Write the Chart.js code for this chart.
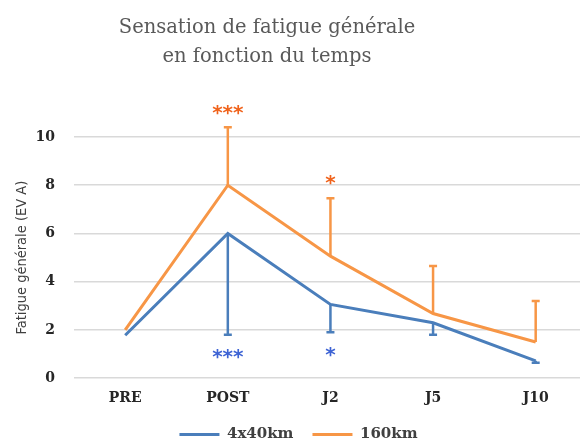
<!DOCTYPE html>
<html>
<head>
<meta charset="utf-8">
<script src="https://cdn.jsdelivr.net/npm/chart.js@4/dist/chart.umd.min.js"></script>
<style>
  html, body { margin: 0; padding: 0; background: #fff; overflow: hidden; }
  #wrap { position: relative; width: 580px; height: 442px; overflow: hidden; }
  #title {
    position: absolute; left: 0; top: 12px; width: 534px;
    text-align: center; font-family: "DejaVu Serif", serif; font-size: 19.5px;
    line-height: 29px; color: #595959;
  }
  canvas { position: absolute; left: 0; top: 0; }
</style>
</head>
<body>
<div id="wrap">
  <canvas id="chart" width="600" height="442"></canvas>
  <div id="title">Sensation de fatigue générale<br>en fonction du temps</div>
</div>
<script>
// values
const timepoints = ["PRE", "POST", "J2", "J5", "J10"];
const short4x40 = [1.78, 6.0, 3.06, 2.3, 0.72];
const ultra160 = [2.0, 8.0, 5.06, 2.68, 1.5];
const short4x40ErrDown = [0, 4.2, 1.15, 0.5, 0.08];
const ultra160ErrUp = [0, 2.4, 2.4, 1.97, 1.7];
const short4x40Sig = ["", "***", "*", "", ""];
const short4x40SigAt = [null, 0.9, 0.95, null, null];
const ultra160Sig = ["", "***", "*", "", ""];
const ultra160SigAt = [null, 11.0, 8.1, null, null];
const yTicks = [0, 2, 4, 6, 8, 10];

const BLUE = "#4a7ebb";
const ORANGE = "#f79646";

// error bars (one-sided) + significance stars
const extrasPlugin = {
  id: "extras",
  afterDatasetsDraw(chart) {
    const { ctx, scales: { x, y } } = chart;
    const bars = [
      { vals: short4x40, err: short4x40ErrDown, dir: -1, color: BLUE },
      { vals: ultra160, err: ultra160ErrUp, dir: 1, color: ORANGE }
    ];
    ctx.save();
    bars.forEach(b => {
      ctx.strokeStyle = b.color;
      ctx.lineWidth = 2.5;
      b.vals.forEach((v, i) => {
        if (!b.err[i]) return;
        const px = x.getPixelForValue(i);
        const y0 = y.getPixelForValue(v);
        const y1 = y.getPixelForValue(v + b.dir * b.err[i]);
        ctx.beginPath();
        ctx.moveTo(px, y0);
        ctx.lineTo(px, y1);
        ctx.moveTo(px - 4, y1);
        ctx.lineTo(px + 4, y1);
        ctx.stroke();
      });
    });
    const stars = [
      { txt: short4x40Sig, at: short4x40SigAt, color: "#3d63d4" },
      { txt: ultra160Sig, at: ultra160SigAt, color: "#f0631c" }
    ];
    ctx.font = "bold 20px 'DejaVu Sans'";
    ctx.textAlign = "center";
    ctx.textBaseline = "middle";
    stars.forEach(s => {
      s.txt.forEach((t, i) => {
        if (!t) return;
        ctx.fillStyle = s.color;
        ctx.fillText(t, x.getPixelForValue(i), y.getPixelForValue(s.at[i]) + 1);
      });
    });
    ctx.restore();
  }
};

new Chart(document.getElementById("chart"), {
  type: "line",
  data: {
    labels: timepoints,
    datasets: [
      { label: "4x40km", data: short4x40, borderColor: BLUE, backgroundColor: BLUE,
        borderWidth: 3, pointRadius: 0, tension: 0, fill: false },
      { label: "160km", data: ultra160, borderColor: ORANGE, backgroundColor: ORANGE,
        borderWidth: 3, pointRadius: 0, tension: 0, fill: false }
    ]
  },
  options: {
    responsive: false,
    animation: false,
    layout: { padding: { top: 137, left: 10, right: 13, bottom: -10 } },
    plugins: {
      title: { display: false },
      tooltip: { enabled: false },
      legend: {
        position: "bottom",
        labels: {
          boxWidth: 40,
          boxHeight: 3,
          padding: 19,
          color: "#404040",
          font: { family: "DejaVu Serif", size: 15, weight: "bold" },
          generateLabels(chart) {
            return Chart.defaults.plugins.legend.labels.generateLabels(chart).map(l => {
              l.lineWidth = 0;
              l.fillStyle = l.strokeStyle;
              return l;
            });
          }
        }
      }
    },
    scales: {
      x: {
        offset: true,
        grid: { display: false, drawTicks: false },
        border: { display: false },
        ticks: { color: "#262626", padding: 12,
          font: { family: "DejaVu Serif", size: 14, weight: "bold" } },
        afterFit(scale) { scale.height -= 11; }
      },
      y: {
        min: 0,
        max: 10,
        afterBuildTicks(axis) { axis.ticks = yTicks.map(v => ({ value: v })); },
        grid: { color: "#d9d9d9", lineWidth: 1.5, drawTicks: false },
        border: { display: false },
        ticks: { color: "#262626", padding: 19,
          font: { family: "DejaVu Serif", size: 14, weight: "bold" } },
        title: {
          display: true,
          text: "Fatigue générale (EV A)",
          color: "#404040",
          padding: { top: 4, bottom: 0 },
          font: { family: "DejaVu Sans Condensed", size: 14.5 }
        },
        afterFit(scale) { scale.width -= 15; }
      }
    }
  },
  plugins: [extrasPlugin]
});
</script>
</body>
</html>
